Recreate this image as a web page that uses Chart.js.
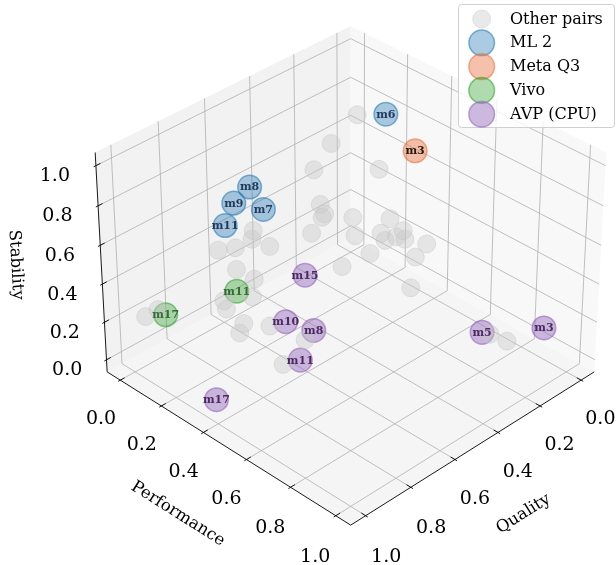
<!DOCTYPE html>
<html><head><meta charset="utf-8">
<script src="https://cdn.jsdelivr.net/npm/chart.js@4/dist/chart.umd.min.js"></script>
<style>html,body{margin:0;padding:0;background:#fff;}canvas{display:block;}</style>
</head><body>
<canvas id="c" width="616" height="565"></canvas>
<script>
// ---------------- data ----------------
const axisTitles = ['Quality', 'Performance', 'Stability'];
const tickValues = [0, 0.2, 0.4, 0.6, 0.8, 1.0];
const tickLabels = ['0.0', '0.2', '0.4', '0.6', '0.8', '1.0'];

const seriesNames = ['Other pairs', 'ML 2', 'Meta Q3', 'Vivo', 'AVP (CPU)'];

const otherQuality     = [0.18,0.28,0.35,0.24,0.40,0.39,0.49,0.46,0.34,0.33,0.30,0.30,0.24,0.28,0.23,0.20,0.20,0.29,0.37,0.22,0.78,0.77,0.70,0.66,0.61,0.74,0.70,0.70,0.78,0.77,0.75,0.76,0.70,0.97,0.95,0.71,0.60,0.19,0.14,0.28];
const otherPerformance = [0.21,0.19,0.18,0.37,0.26,0.27,0.36,0.28,0.35,0.35,0.48,0.44,0.40,0.52,0.48,0.55,0.50,0.38,0.33,0.50,0.18,0.25,0.26,0.21,0.24,0.22,0.26,0.25,0.20,0.20,0.26,0.25,0.33,0.03,0.07,0.40,0.39,0.83,0.86,0.49];
const otherStability   = [0.90,0.80,0.70,0.75,0.60,0.55,0.65,0.50,0.55,0.45,0.60,0.50,0.40,0.55,0.45,0.45,0.35,0.35,0.30,0.20,0.55,0.60,0.65,0.55,0.50,0.45,0.40,0.30,0.30,0.25,0.20,0.15,0.20,0.23,0.28,0.05,0.10,0.15,0.10,0.50];

const ml2Labels      = ['m6', 'm8', 'm9', 'm7', 'm11'];
const ml2Quality     = [0.20, 0.73, 0.79, 0.71, 0.82];
const ml2Performance = [0.36, 0.28, 0.27, 0.32, 0.26];
const ml2Stability   = [1.00, 0.90, 0.85, 0.80, 0.75];

const metaLabels      = ['m3'];
const metaQuality     = [0.25];
const metaPerformance = [0.54];
const metaStability   = [0.95];

const vivoLabels      = ['m11', 'm17'];
const vivoQuality     = [0.75, 0.91];
const vivoPerformance = [0.23, 0.06];
const vivoStability   = [0.35, 0.22];

const avpLabels      = ['m15', 'm10', 'm8', 'm11', 'm17', 'm5', 'm3'];
const avpQuality     = [0.53, 0.61, 0.58, 0.69, 0.96, 0.24, 0.04];
const avpPerformance = [0.32, 0.31, 0.41, 0.46, 0.35, 0.84, 0.93];
const avpStability   = [0.35, 0.15, 0.15, 0.10, 0.00, 0.20, 0.15];

// ---------------- view / projection ----------------
const W = 616, H = 565;
const ELEV = 34, AZIM = 45, DIST = 10;
const LIM = [-0.065, 1.065];
const BOX = [1.1429, 1.1429, 0.8572];
const SCALE = 3086, CX = 350.7, CY = 264.8;
const el = ELEV * Math.PI / 180, az = AZIM * Math.PI / 180;
const U = [-Math.sin(az), Math.cos(az), 0];
const V = [-Math.sin(el) * Math.cos(az), -Math.sin(el) * Math.sin(az), Math.cos(el)];
const WV = [Math.cos(el) * Math.cos(az), Math.cos(el) * Math.sin(az), Math.sin(el)];
const HB = BOX.map(b => b / 2);

function w1(v, i) { return (v - LIM[0]) / (LIM[1] - LIM[0]) * BOX[i] - HB[i]; }
function toWorld(q, p, s) { return [w1(q, 0), w1(p, 1), w1(s, 2)]; }
function projD(d) {
  const dot = a => a[0] * d[0] + a[1] * d[1] + a[2] * d[2];
  const den = DIST - dot(WV);
  return { x: dot(U) / den, y: dot(V) / den, depth: dot(WV) };
}
function makePoints(qs, ps, ss, labels) {
  const pts = qs.map((q, i) => {
    const pr = projD(toWorld(q, ps[i], ss[i]));
    return { x: pr.x, y: pr.y, depth: pr.depth, label: labels ? labels[i] : null };
  });
  pts.sort((a, b) => a.depth - b.depth);
  return pts;
}

const styles = [
  { fill: 'rgba(200,200,200,0.4)', edge: 'rgba(195,195,195,0.4)', r: 9, bw: 1, text: null },
  { fill: 'rgba(31,119,180,0.38)', edge: 'rgba(31,119,180,0.55)', r: 11.8, bw: 1.5, text: 'rgba(25,50,85,0.95)' },
  { fill: 'rgba(232,118,68,0.45)', edge: 'rgba(232,118,68,0.6)', r: 11.8, bw: 1.5, text: 'rgba(30,15,5,0.95)' },
  { fill: 'rgba(44,160,44,0.38)', edge: 'rgba(44,160,44,0.55)', r: 11.8, bw: 1.5, text: 'rgba(30,90,30,0.85)' },
  { fill: 'rgba(148,103,189,0.46)', edge: 'rgba(148,103,189,0.6)', r: 11.8, bw: 1.5, text: 'rgba(70,35,90,0.95)' }
];

const pointSets = [
  makePoints(otherQuality, otherPerformance, otherStability, null),
  makePoints(ml2Quality, ml2Performance, ml2Stability, ml2Labels),
  makePoints(metaQuality, metaPerformance, metaStability, metaLabels),
  makePoints(vivoQuality, vivoPerformance, vivoStability, vivoLabels),
  makePoints(avpQuality, avpPerformance, avpStability, avpLabels)
];

const datasets = pointSets.map((pts, i) => ({
  label: seriesNames[i],
  data: pts,
  backgroundColor: styles[i].fill,
  borderColor: styles[i].edge,
  borderWidth: styles[i].bw,
  pointRadius: styles[i].r,
  pointHoverRadius: styles[i].r,
  pointStyle: 'circle',
  clip: false
}));

// ---------------- axes box plugin ----------------
const SERIF = "'DejaVu Serif', 'Liberation Serif', serif";
const boxPlugin = {
  id: 'box3d',
  beforeDraw(chart) {
    const c = chart.ctx;
    c.save(); c.fillStyle = '#fff'; c.fillRect(0, 0, W, H); c.restore();
  },
  beforeDatasetsDraw(chart) {
    const c = chart.ctx, sx = chart.scales.x, sy = chart.scales.y;
    const P = d => { const p = projD(d); return [sx.getPixelForValue(p.x), sy.getPixelForValue(p.y)]; };
    const [hx, hy, hz] = HB;
    const poly = (pts, fill, stroke, lw) => {
      c.beginPath();
      pts.forEach((d, i) => { const [x, y] = P(d); if (i) c.lineTo(x, y); else c.moveTo(x, y); });
      if (fill) { c.closePath(); c.fillStyle = fill; c.fill(); }
      if (stroke) { c.strokeStyle = stroke; c.lineWidth = lw; c.stroke(); }
    };
    c.save();
    // panes
    poly([[-hx, -hy, -hz], [hx, -hy, -hz], [hx, hy, -hz], [-hx, hy, -hz]], 'rgb(245,245,245)');
    poly([[-hx, -hy, -hz], [hx, -hy, -hz], [hx, -hy, hz], [-hx, -hy, hz]], 'rgb(242,242,242)');
    poly([[-hx, -hy, -hz], [-hx, hy, -hz], [-hx, hy, hz], [-hx, -hy, hz]], 'rgb(248,248,248)');
    // grid
    tickValues.forEach(t => {
      const a = w1(t, 0), b = w1(t, 1), z = w1(t, 2);
      poly([[a, hy, -hz], [a, -hy, -hz], [a, -hy, hz]], null, '#b0b0b0', 0.8);
      poly([[hx, b, -hz], [-hx, b, -hz], [-hx, b, hz]], null, '#b0b0b0', 0.8);
      poly([[hx, -hy, z], [-hx, -hy, z], [-hx, hy, z]], null, '#b0b0b0', 0.8);
    });
    // axis lines
    poly([[-hx, hy, -hz], [hx, hy, -hz]], null, '#000', 0.9);
    poly([[hx, -hy, -hz], [hx, hy, -hz]], null, '#000', 0.9);
    poly([[hx, -hy, -hz], [hx, -hy, hz]], null, '#000', 0.9);
    // ticks
    const tin = 0.019, tout = 0.0095;
    tickValues.forEach(t => {
      const a = w1(t, 0), b = w1(t, 1), z = w1(t, 2);
      poly([[a, hy - tin, -hz], [a, hy + tout, -hz]], null, '#000', 0.9);
      poly([[hx - tin, b, -hz], [hx + tout, b, -hz]], null, '#000', 0.9);
      poly([[hx - tin, -hy, z], [hx + tout, -hy, z]], null, '#000', 0.9);
    });
    // tick labels
    c.fillStyle = '#000';
    c.font = '19px ' + SERIF;
    c.textAlign = 'center'; c.textBaseline = 'middle';
    tickValues.forEach((t, i) => {
      const a = w1(t, 0), b = w1(t, 1), z = w1(t, 2);
      let [x, y] = P([a, hy + 0.0906, -hz - 0.1034]); c.fillText(tickLabels[i], x, y + 2);
      [x, y] = P([hx + 0.0906, b, -hz - 0.1034]); c.fillText(tickLabels[i], x, y + 2);
      [x, y] = P([hx + 0.092, -hy - 0.092, z]); c.fillText(tickLabels[i], x, y + 10.5);
    });
    // axis titles
    c.font = '16.5px ' + SERIF;
    const title = (text, pos, from, to) => {
      const [x, y] = P(pos), [x0, y0] = P(from), [x1, y1] = P(to);
      let ang = Math.atan2(y1 - y0, x1 - x0);
      if (ang > Math.PI / 2) ang -= Math.PI;
      if (ang <= -Math.PI / 2) ang += Math.PI;
      c.save(); c.translate(x, y); c.rotate(ang); c.fillText(text, 0, 0); c.restore();
    };
    title(axisTitles[0], [0, hy + 0.21, -hz - 0.16], [-hx, hy, -hz], [hx, hy, -hz]);
    title(axisTitles[1], [hx + 0.21, 0, -hz - 0.16], [hx, -hy, -hz], [hx, hy, -hz]);
    title(axisTitles[2], [hx + 0.196, -hy - 0.196, 0], [hx, -hy, -hz], [hx, -hy, hz]);
    c.restore();
  },
  afterDatasetsDraw(chart) {
    const c = chart.ctx;
    c.save();
    c.font = 'bold 11px ' + SERIF;
    c.textAlign = 'center'; c.textBaseline = 'middle';
    chart.data.datasets.forEach((ds, i) => {
      if (!styles[i].text) return;
      const meta = chart.getDatasetMeta(i);
      meta.data.forEach((el, j) => {
        c.fillStyle = styles[i].text;
        c.fillText(ds.data[j].label, el.x, el.y + 0.5);
      });
    });
    // legend
    const lx = 458.5, ly = 4.5, lw = 156, lh = 123, rr = 3;
    c.beginPath();
    c.moveTo(lx + rr, ly); c.lineTo(lx + lw - rr, ly); c.arcTo(lx + lw, ly, lx + lw, ly + rr, rr);
    c.lineTo(lx + lw, ly + lh - rr); c.arcTo(lx + lw, ly + lh, lx + lw - rr, ly + lh, rr);
    c.lineTo(lx + rr, ly + lh); c.arcTo(lx, ly + lh, lx, ly + lh - rr, rr);
    c.lineTo(lx, ly + rr); c.arcTo(lx, ly, lx + rr, ly, rr); c.closePath();
    c.fillStyle = 'rgba(255,255,255,0.8)'; c.fill();
    c.strokeStyle = '#d0d0d0'; c.lineWidth = 1; c.stroke();
    c.font = '16px ' + SERIF; c.textAlign = 'left';
    chart.data.datasets.forEach((ds, i) => {
      const y = 19 + i * 23.8;
      const r = i === 0 ? 9 : 12.8;
      c.beginPath(); c.arc(481.7, y, r, 0, Math.PI * 2);
      c.fillStyle = ds.backgroundColor; c.fill();
      c.strokeStyle = ds.borderColor; c.lineWidth = ds.borderWidth; c.stroke();
      c.fillStyle = '#000';
      c.fillText(ds.label, 510, y + 0.5);
    });
    c.restore();
  }
};

new Chart(document.getElementById('c'), {
  type: 'scatter',
  data: { datasets },
  options: {
    responsive: false,
    maintainAspectRatio: false,
    devicePixelRatio: 1,
    animation: false,
    events: [],
    layout: { padding: 0, autoPadding: false },
    plugins: { legend: { display: false }, tooltip: { enabled: false } },
    scales: {
      x: { type: 'linear', display: false, min: -CX / SCALE, max: (W - CX) / SCALE },
      y: { type: 'linear', display: false, min: (CY - H) / SCALE, max: CY / SCALE }
    }
  },
  plugins: [boxPlugin]
});
</script>
</body></html>
